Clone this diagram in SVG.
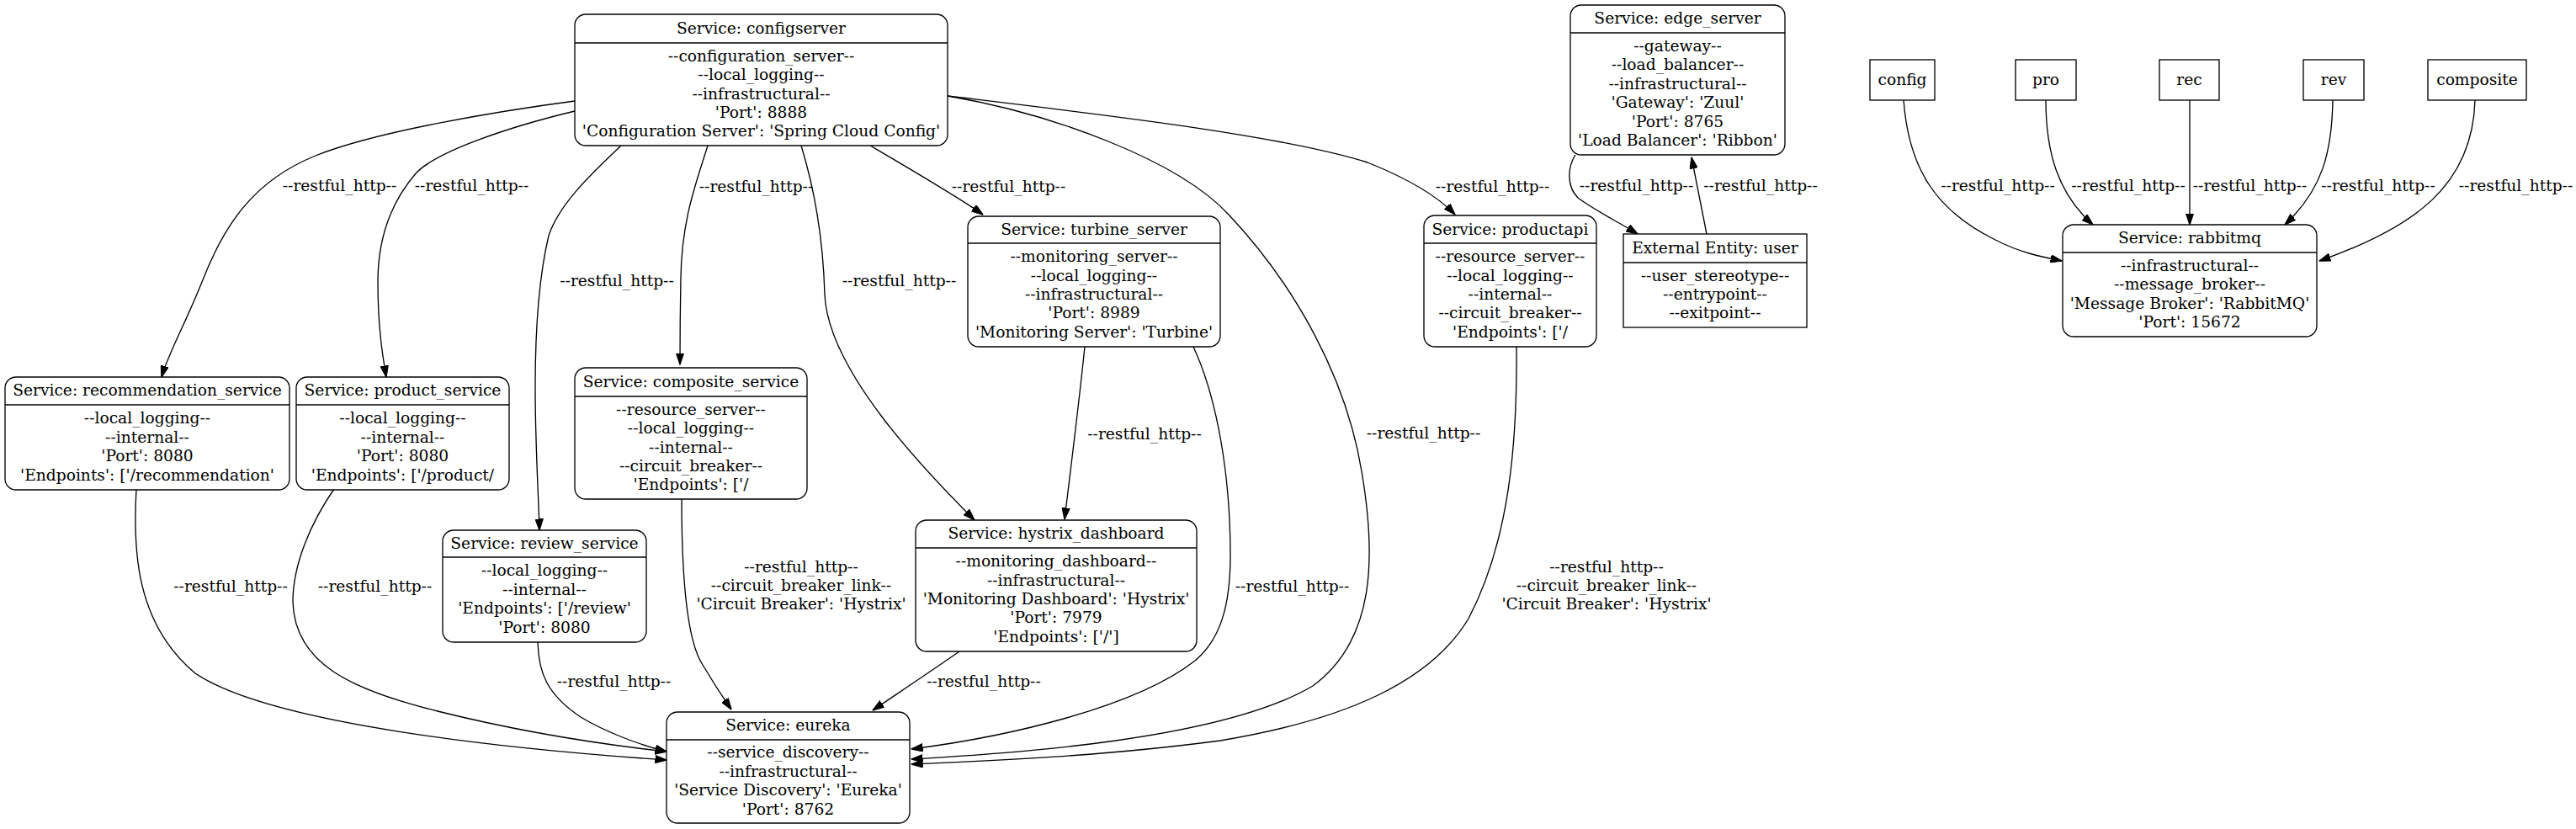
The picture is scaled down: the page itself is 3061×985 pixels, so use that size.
<svg xmlns="http://www.w3.org/2000/svg" width="3061" height="985" viewBox="0 0 3061 985">
<style>
text{font-family:"DejaVu Serif","Liberation Serif",serif;font-size:18.67px;fill:#000;text-anchor:middle}
.box{fill:#fff;stroke:#000;stroke-width:1.33}
.sep{stroke:#000;stroke-width:1.33}
.edge path{fill:none;stroke:#000;stroke-width:1.33;marker-end:url(#arr)}
</style>
<defs>
<marker id="arr" markerUnits="userSpaceOnUse" markerWidth="14" markerHeight="10" viewBox="0 0 14 10" refX="13.5" refY="5" orient="auto">
<path d="M0,0.3 L14,5 L0,9.7 z" fill="#000" stroke="#000" stroke-width="1"/>
</marker>
</defs>
<rect x="0" y="0" width="3061" height="985" fill="#fff"/>

<g id="connectors" class="edge">
<path d="M683,120 C600,131 450,155 375,185 C300,215 265,270 240,335 C220,385 200,420 192,448"/>
<path d="M683,132 C600,152 520,180 495,205 C460,245 449,290 449,335 C449,390 455,425 459,448"/>
<path d="M738,173 C710,200 665,240 652,280 C640,330 636,400 636,460 C636,530 640,590 641,630"/>
<path d="M841,173 C828,215 810,260 809,330 C808,380 808,410 808,433"/>
<path d="M952,173 C968,225 978,280 980,350 C984,440 1098,558 1158,618"/>
<path d="M1034,173 C1080,200 1140,235 1168,255"/>
<path d="M1126,114 C1300,135 1520,160 1625,193 C1680,215 1710,235 1729,255"/>
<path d="M1126,114 C1250,135 1400,190 1460,255 C1540,340 1600,450 1618,560 C1635,660 1635,760 1560,815 C1450,880 1200,895 1083,902"/>
<path d="M1289,412 C1282,480 1272,560 1265,617"/>
<path d="M1418,412 C1445,470 1462,560 1462,660 C1462,720 1450,760 1420,785 C1350,840 1200,875 1083,890"/>
<path d="M1140,774 C1110,795 1065,825 1037,844"/>
<path d="M810,593 C810,680 815,760 835,790 C848,812 860,830 869,843"/>
<path d="M639,763 C640,800 650,825 690,852 C720,870 760,885 792,893"/>
<path d="M162,581 C158,650 160,740 232,800 C320,860 600,890 792,903"/>
<path d="M397,581 C370,620 348,670 348,715 C350,790 420,820 520,845 C620,870 720,885 792,893"/>
<path d="M1802,412 C1803,520 1795,640 1745,735 C1700,810 1600,855 1450,880 C1300,900 1150,905 1083,908"/>
<path d="M1872,184 C1862,200 1862,222 1875,235 C1895,250 1925,265 1946,278"/>
<path d="M2028,278 L2010,187"/>
<path d="M2262,119 C2268,200 2300,250 2371,285 C2400,300 2425,305 2450,310"/>
<path d="M2431,119 C2431,180 2445,230 2487,267"/>
<path d="M2602,119 L2602,267"/>
<path d="M2772,119 C2771,180 2760,225 2715,267"/>
<path d="M2941,119 C2938,220 2870,270 2756,310"/>
<g id="edge-labels">
<text x="403.5" y="227">--restful_http--</text>
<text x="560.5" y="227">--restful_http--</text>
<text x="898.5" y="228">--restful_http--</text>
<text x="1198.5" y="228">--restful_http--</text>
<text x="1773.5" y="228">--restful_http--</text>
<text x="733" y="340">--restful_http--</text>
<text x="1068.5" y="340">--restful_http--</text>
<text x="1691.5" y="521">--restful_http--</text>
<text x="1360" y="522">--restful_http--</text>
<text x="274" y="703">--restful_http--</text>
<text x="445.5" y="703">--restful_http--</text>
<text x="1535.5" y="703">--restful_http--</text>
<text x="729.5" y="816">--restful_http--</text>
<text x="1169" y="816">--restful_http--</text>
<text x="952" y="680">--restful_http--</text>
<text x="952" y="702">--circuit_breaker_link--</text>
<text x="952" y="724">'Circuit Breaker': 'Hystrix'</text>
<text x="1909" y="680">--restful_http--</text>
<text x="1909" y="702">--circuit_breaker_link--</text>
<text x="1909" y="724">'Circuit Breaker': 'Hystrix'</text>
<text x="1944.5" y="227">--restful_http--</text>
<text x="2092" y="227">--restful_http--</text>
<text x="2374" y="227">--restful_http--</text>
<text x="2529" y="227">--restful_http--</text>
<text x="2673.5" y="227">--restful_http--</text>
<text x="2826" y="227">--restful_http--</text>
<text x="2989.5" y="227">--restful_http--</text>
</g>
</g>

<g id="configserver">
<rect class="box" x="683" y="17" width="443" height="156" rx="13"/>
<line class="sep" x1="683" y1="51" x2="1126" y2="51"/>
<text x="904.5" y="39.5">Service: configserver</text>
<text x="904.5" y="72.7">--configuration_server--</text>
<text x="904.5" y="95.1">--local_logging--</text>
<text x="904.5" y="117.5">--infrastructural--</text>
<text x="904.5" y="139.9">'Port': 8888</text>
<text x="904.5" y="162.3">'Configuration Server': 'Spring Cloud Config'</text>
</g>

<g id="edge_server">
<rect class="box" x="1866" y="6" width="255" height="178" rx="13"/>
<line class="sep" x1="1866" y1="39" x2="2121" y2="39"/>
<text x="1993.5" y="28">Service: edge_server</text>
<text x="1993.5" y="61">--gateway--</text>
<text x="1993.5" y="83.4">--load_balancer--</text>
<text x="1993.5" y="105.8">--infrastructural--</text>
<text x="1993.5" y="128.2">'Gateway': 'Zuul'</text>
<text x="1993.5" y="150.6">'Port': 8765</text>
<text x="1993.5" y="173">'Load Balancer': 'Ribbon'</text>
</g>

<g id="user">
<rect class="box" x="1929" y="278" width="218" height="111"/>
<line class="sep" x1="1929" y1="312" x2="2147" y2="312"/>
<text x="2038" y="300.5">External Entity: user</text>
<text x="2038" y="333.6">--user_stereotype--</text>
<text x="2038" y="356">--entrypoint--</text>
<text x="2038" y="378.4">--exitpoint--</text>
</g>

<g id="recommendation_service">
<rect class="box" x="6" y="448" width="338" height="134" rx="13"/>
<line class="sep" x1="6" y1="481" x2="344" y2="481"/>
<text x="175" y="470">Service: recommendation_service</text>
<text x="175" y="503.4">--local_logging--</text>
<text x="175" y="525.8">--internal--</text>
<text x="175" y="548.2">'Port': 8080</text>
<text x="175" y="570.6">'Endpoints': ['/recommendation'</text>
</g>

<g id="product_service">
<rect class="box" x="352" y="448" width="253" height="134" rx="13"/>
<line class="sep" x1="352" y1="481" x2="605" y2="481"/>
<text x="478.5" y="470">Service: product_service</text>
<text x="478.5" y="503.4">--local_logging--</text>
<text x="478.5" y="525.8">--internal--</text>
<text x="478.5" y="548.2">'Port': 8080</text>
<text x="478.5" y="570.6">'Endpoints': ['/product/</text>
</g>

<g id="composite_service">
<rect class="box" x="683" y="437" width="276" height="156" rx="13"/>
<line class="sep" x1="683" y1="471" x2="959" y2="471"/>
<text x="821" y="459.5">Service: composite_service</text>
<text x="821" y="492.7">--resource_server--</text>
<text x="821" y="515.1">--local_logging--</text>
<text x="821" y="537.5">--internal--</text>
<text x="821" y="559.9">--circuit_breaker--</text>
<text x="821" y="582.3">'Endpoints': ['/</text>
</g>

<g id="review_service">
<rect class="box" x="526" y="630" width="242" height="133" rx="13"/>
<line class="sep" x1="526" y1="662" x2="768" y2="662"/>
<text x="647" y="651.5">Service: review_service</text>
<text x="647" y="684.4">--local_logging--</text>
<text x="647" y="706.8">--internal--</text>
<text x="647" y="729.2">'Endpoints': ['/review'</text>
<text x="647" y="751.6">'Port': 8080</text>
</g>

<g id="turbine_server">
<rect class="box" x="1150" y="257" width="300" height="155" rx="13"/>
<line class="sep" x1="1150" y1="289" x2="1450" y2="289"/>
<text x="1300" y="278.5">Service: turbine_server</text>
<text x="1300" y="311.2">--monitoring_server--</text>
<text x="1300" y="333.6">--local_logging--</text>
<text x="1300" y="356">--infrastructural--</text>
<text x="1300" y="378.4">'Port': 8989</text>
<text x="1300" y="400.8">'Monitoring Server': 'Turbine'</text>
</g>

<g id="productapi">
<rect class="box" x="1692" y="256" width="205" height="156" rx="13"/>
<line class="sep" x1="1692" y1="289" x2="1897" y2="289"/>
<text x="1794.5" y="278.5">Service: productapi</text>
<text x="1794.5" y="311.2">--resource_server--</text>
<text x="1794.5" y="333.6">--local_logging--</text>
<text x="1794.5" y="356">--internal--</text>
<text x="1794.5" y="378.4">--circuit_breaker--</text>
<text x="1794.5" y="400.8">'Endpoints': ['/</text>
</g>

<g id="hystrix_dashboard">
<rect class="box" x="1088" y="618" width="334" height="156" rx="13"/>
<line class="sep" x1="1088" y1="651" x2="1422" y2="651"/>
<text x="1255" y="640">Service: hystrix_dashboard</text>
<text x="1255" y="673.2">--monitoring_dashboard--</text>
<text x="1255" y="695.6">--infrastructural--</text>
<text x="1255" y="718">'Monitoring Dashboard': 'Hystrix'</text>
<text x="1255" y="740.4">'Port': 7979</text>
<text x="1255" y="762.8">'Endpoints': ['/']</text>
</g>

<g id="eureka">
<rect class="box" x="792" y="846" width="289" height="132" rx="13"/>
<line class="sep" x1="792" y1="879" x2="1081" y2="879"/>
<text x="936.5" y="868">Service: eureka</text>
<text x="936.5" y="900.4">--service_discovery--</text>
<text x="936.5" y="922.8">--infrastructural--</text>
<text x="936.5" y="945.2">'Service Discovery': 'Eureka'</text>
<text x="936.5" y="967.6">'Port': 8762</text>
</g>

<g id="rabbitmq">
<rect class="box" x="2451" y="267" width="302" height="133" rx="13"/>
<line class="sep" x1="2451" y1="300" x2="2753" y2="300"/>
<text x="2602" y="289">Service: rabbitmq</text>
<text x="2602" y="321.9">--infrastructural--</text>
<text x="2602" y="344.3">--message_broker--</text>
<text x="2602" y="366.7">'Message Broker': 'RabbitMQ'</text>
<text x="2602" y="389.1">'Port': 15672</text>
</g>

<g id="config">
<rect class="box" x="2222" y="71" width="77" height="48"/>
<text x="2260.5" y="101">config</text>
</g>
<g id="pro">
<rect class="box" x="2395" y="71" width="72" height="48"/>
<text x="2431" y="101">pro</text>
</g>
<g id="rec">
<rect class="box" x="2566" y="71" width="71" height="48"/>
<text x="2601.5" y="101">rec</text>
</g>
<g id="rev">
<rect class="box" x="2737" y="71" width="72" height="48"/>
<text x="2773" y="101">rev</text>
</g>
<g id="composite">
<rect class="box" x="2885" y="71" width="117" height="48"/>
<text x="2943.5" y="101">composite</text>
</g>
</svg>
